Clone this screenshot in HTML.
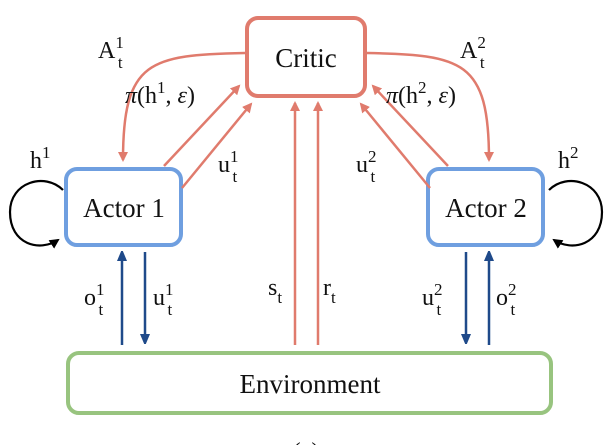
<!DOCTYPE html>
<html><head><style>
html,body{margin:0;padding:0;background:#fff;}
svg{display:block;}
text{font-family:"Liberation Serif",serif;fill:#111;}
</style></head><body>
<svg width="604" height="445" viewBox="0 0 604 445" xmlns="http://www.w3.org/2000/svg">
<defs>
<marker id="r" markerWidth="10" markerHeight="10" refX="8" refY="5" orient="auto" markerUnits="userSpaceOnUse"><path d="M0,0 L10,5 L0,10 z" fill="#e07b6d"/></marker>
<marker id="b" markerWidth="10" markerHeight="12" refX="8" refY="5" orient="auto" markerUnits="userSpaceOnUse"><path d="M0,0 L12,5 L0,10 z" fill="#1f4a8a"/></marker>
<marker id="k" markerWidth="10" markerHeight="10" refX="8" refY="5" orient="auto" markerUnits="userSpaceOnUse"><path d="M0,0 L10,5 L0,10 z" fill="#000"/></marker>
</defs>
<rect x="247" y="18" width="118" height="78" rx="11" fill="#fff" stroke="#e07b6d" stroke-width="4"/>
<rect x="66" y="169" width="115" height="76" rx="11" fill="#fff" stroke="#6f9fe0" stroke-width="4"/>
<rect x="428" y="169" width="115" height="76" rx="11" fill="#fff" stroke="#6f9fe0" stroke-width="4"/>
<rect x="68" y="353" width="483" height="60" rx="11" fill="#fff" stroke="#98c47f" stroke-width="4"/>
<text x="306" y="67" font-size="27" text-anchor="middle">Critic</text>
<text x="124" y="217" font-size="27" text-anchor="middle">Actor 1</text>
<text x="486" y="217" font-size="27" text-anchor="middle">Actor 2</text>
<text x="310" y="393" font-size="27" text-anchor="middle">Environment</text>
<g stroke="#e07b6d" stroke-width="2.5" fill="none">
<path d="M245,53 C150,55 123,60 123,160" marker-end="url(#r)"/>
<path d="M164,166 L239,86" marker-end="url(#r)"/>
<path d="M182,188 L251,104" marker-end="url(#r)"/>
<path d="M367,53 C462,55 489,60 489,160" marker-end="url(#r)"/>
<path d="M448,166 L373,86" marker-end="url(#r)"/>
<path d="M430,188 L361,104" marker-end="url(#r)"/>
<path d="M295,345 L295,103" marker-end="url(#r)"/>
<path d="M318,345 L318,103" marker-end="url(#r)"/>
</g>
<g stroke="#1f4a8a" stroke-width="2.5" fill="none">
<path d="M122,345 L122,253" marker-end="url(#b)"/>
<path d="M145,252 L145,342" marker-end="url(#b)"/>
<path d="M466,252 L466,342" marker-end="url(#b)"/>
<path d="M489,345 L489,253" marker-end="url(#b)"/>
</g>
<g stroke="#000" stroke-width="2.2" fill="none">
<path d="M63,190 C45,172 10,182 10,212 C10,245 40,252 58,240" marker-end="url(#k)"/>
<path d="M549,190 C567,172 602,182 602,212 C602,245 572,252 554,240" marker-end="url(#k)"/>
</g>
<g font-size="24">
<text x="98" y="58">A<tspan font-size="17" dy="-10">1</tspan><tspan font-size="17" dx="-6" dy="20">t</tspan></text>
<text x="460" y="58">A<tspan font-size="17" dy="-10">2</tspan><tspan font-size="17" dx="-6" dy="20">t</tspan></text>
<text x="125" y="103"><tspan font-style="italic">π</tspan>(h<tspan font-size="17" dy="-10">1</tspan><tspan dy="10">, </tspan><tspan font-style="italic">ε</tspan>)</text>
<text x="386" y="103"><tspan font-style="italic">π</tspan>(h<tspan font-size="17" dy="-10">2</tspan><tspan dy="10">, </tspan><tspan font-style="italic">ε</tspan>)</text>
<text x="218" y="172">u<tspan font-size="17" dy="-10">1</tspan><tspan font-size="17" dx="-6" dy="20">t</tspan></text>
<text x="356" y="172">u<tspan font-size="17" dy="-10">2</tspan><tspan font-size="17" dx="-6" dy="20">t</tspan></text>
<text x="30" y="168">h<tspan font-size="17" dy="-10">1</tspan></text>
<text x="558" y="168">h<tspan font-size="17" dy="-10">2</tspan></text>
<text x="268" y="295">s<tspan font-size="17" dy="8">t</tspan></text>
<text x="323" y="295">r<tspan font-size="17" dy="8">t</tspan></text>
<text x="84" y="305">o<tspan font-size="17" dy="-10">1</tspan><tspan font-size="17" dx="-6" dy="20">t</tspan></text>
<text x="153" y="305">u<tspan font-size="17" dy="-10">1</tspan><tspan font-size="17" dx="-6" dy="20">t</tspan></text>
<text x="422" y="305">u<tspan font-size="17" dy="-10">2</tspan><tspan font-size="17" dx="-6" dy="20">t</tspan></text>
<text x="496" y="305">o<tspan font-size="17" dy="-10">2</tspan><tspan font-size="17" dx="-6" dy="20">t</tspan></text>
<text x="306" y="459" text-anchor="middle">(a)</text>
</g>
</svg>
</body></html>
